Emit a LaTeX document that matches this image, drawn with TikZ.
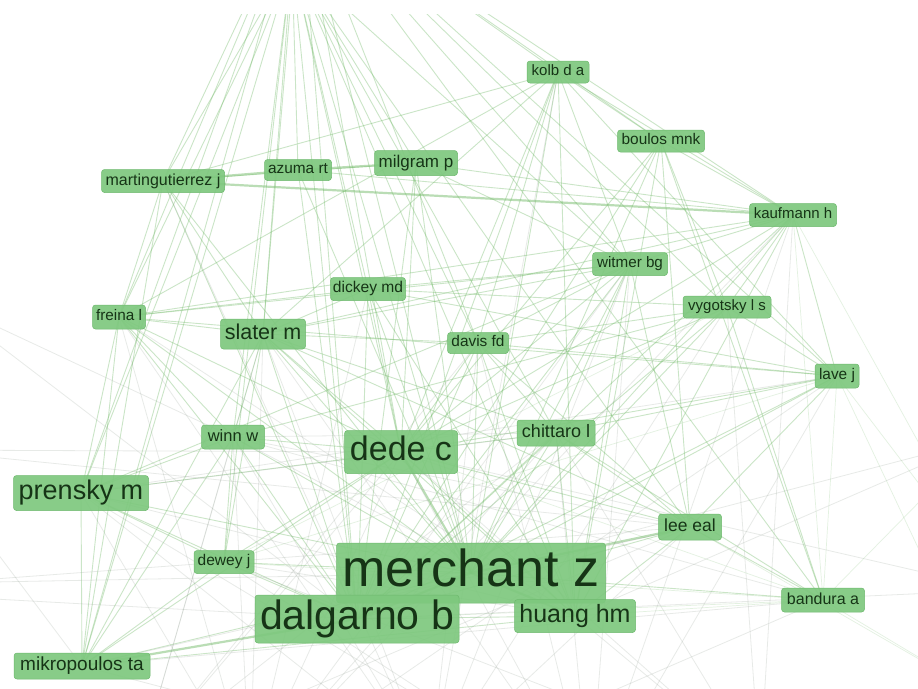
\documentclass[tikz,border=0pt]{standalone}
\usepackage{fontspec}
\setmainfont{Liberation Sans}
\usetikzlibrary{backgrounds}

\definecolor{nodefill}{RGB}{126,200,126}
\definecolor{nodeedge}{RGB}{110,185,110}
\definecolor{nodetext}{RGB}{22,52,22}
\definecolor{linkgreen}{RGB}{118,188,108}
\definecolor{linkgrey}{RGB}{150,162,150}

\tikzset{
  lbl/.style n args={3}{rectangle, rounded corners=3pt,
    fill=nodefill, fill opacity=0.92, text opacity=1,
    draw=nodeedge, line width=0.5pt,
    minimum width=#2pt, minimum height=#3pt, inner sep=0pt,
    font=\fontsize{#1}{#1}\selectfont, text=nodetext,
    execute at begin node={\rule[-0.22em]{0pt}{0.95em}}},
  ge/.style={draw=linkgreen, opacity=0.38, line width=0.9pt},
  gthick/.style={draw=linkgreen, opacity=0.5, line width=2.2pt},
  gfaint/.style={draw=linkgreen, opacity=0.2, line width=0.7pt},
  gg/.style={draw=linkgrey, opacity=0.22, line width=0.8pt},
}

\begin{document}
\begin{tikzpicture}[x=1pt, y=-1pt]
\useasboundingbox (0,0) rectangle (918,688);

% labels
\node[lbl={15}{62}{22}]   (kolb)    at (558,72)  {kolb d a};
\node[lbl={15.4}{87}{22}] (boulos)  at (661,141) {boulos mnk};
\node[lbl={16}{123}{23}]  (martin)  at (163,181) {martingutierrez j};
\node[lbl={15.4}{67}{21}] (azuma)   at (298,170) {azuma rt};
\node[lbl={17}{83}{25}]   (milgram) at (416,163) {milgram p};
\node[lbl={15}{87}{23}]   (kauf)    at (793,215) {kaufmann h};
\node[lbl={15.2}{75}{23}] (witmer)  at (630,264) {witmer bg};
\node[lbl={15.6}{75}{23}] (dickey)  at (368,289) {dickey md};
\node[lbl={15.3}{53}{24}] (freina)  at (119,317) {freina l};
\node[lbl={21.5}{85}{30}] (slater)  at (263,334) {slater m};
\node[lbl={15.4}{61}{21}] (davis)   at (478,343) {davis fd};
\node[lbl={15}{88}{22}]   (vyg)     at (727,307) {vygotsky l s};
\node[lbl={15.4}{44}{24}] (lave)    at (837,376) {lave j};
\node[lbl={16.5}{63}{24}] (winn)    at (233,437) {winn w};
\node[lbl={34}{113}{43}]  (dede)    at (401,452) {dede c};
\node[lbl={18}{78}{26}]   (chit)    at (556,433) {chittaro l};
\node[lbl={27}{135}{35}]  (prensky) at (81,493)  {prensky m};
\node[lbl={17.5}{63}{26}] (lee)     at (690,527) {lee eal};
\node[lbl={15.5}{60}{23}] (dewey)   at (224,562) {dewey j};
\node[lbl={52}{269}{60}]  (merch)   at (471,573) {merchant z};
\node[lbl={41}{204}{48}]  (dalg)    at (357,619) {dalgarno b};
\node[lbl={25}{121}{33}]  (huang)   at (575,616) {huang hm};
\node[lbl={16}{83}{24}]   (bandura) at (823,600) {bandura a};
\node[lbl={19}{136}{26}]  (mikro)   at (82,666)  {mikropoulos ta};

% end points of links that run out of the frame
\coordinate (topA) at (292,-40);
\coordinate (topB) at (300,-110);
\coordinate (botA) at (250,780);
\coordinate (botB) at (430,770);
\coordinate (botC) at (590,800);
\coordinate (botD) at (140,760);
\coordinate (botE) at (760,770);
\coordinate (rightA) at (1000,590);
\coordinate (rightB) at (990,700);
\coordinate (rightC) at (980,440);
\coordinate (leftA) at (-60,583);
\coordinate (leftB) at (-60,596);
\coordinate (leftC) at (-80,450);
\coordinate (leftD) at (-60,300);

\begin{scope}[on background layer]
  \fill[white] (0,0) rectangle (918,688);
  \clip (0,14) rectangle (918,688);

  % links towards the cluster above the frame
  \foreach \b in {martin,azuma,milgram,slater,freina,dede,merch,dalg,dickey,
                  davis,witmer,prensky,winn,mikro,huang,chit,dewey,lee}
    \draw[ge] (topA) -- (\b.center);
  \foreach \b in {martin,kolb,boulos,kauf,vyg,lave,freina,prensky,mikro,
                  witmer,davis,merch,dalg,bandura,slater,dede}
    \draw[ge] (topB) -- (\b.center);

  % strong links
  \foreach \a/\b in {martin/azuma, azuma/milgram, martin/kauf, lee/merch,
                     dalg/mikro, dede/merch, merch/dalg, merch/huang}
    \draw[gthick] (\a.center) -- (\b.center);

  % regular links
  \foreach \a/\b in {martin/milgram, milgram/kauf, azuma/kauf, kolb/boulos,
      kolb/kauf, kolb/witmer, kolb/davis, kolb/dede, kolb/merch, kolb/lave,
      kolb/dalg, kolb/slater, kolb/freina, kolb/martin, kolb/huang,
      boulos/kauf, boulos/dalg, boulos/merch, boulos/lee, boulos/huang,
      boulos/bandura, boulos/vyg, boulos/dede,
      kauf/witmer, kauf/vyg, kauf/merch, kauf/dalg, kauf/lave, kauf/huang,
      kauf/dede, kauf/slater, kauf/freina,
      witmer/slater, witmer/dickey, witmer/dede, witmer/merch, witmer/dalg,
      witmer/chit, witmer/huang, witmer/freina, witmer/lee, witmer/davis,
      witmer/prensky,
      dickey/dede, dickey/merch, dickey/dalg, dickey/freina, dickey/slater,
      dickey/lave, dickey/vyg, dickey/huang,
      freina/slater, freina/merch, freina/dalg, freina/mikro, freina/dede,
      freina/winn, freina/lave, freina/prensky,
      slater/dede, slater/merch, slater/dalg, slater/huang, slater/chit,
      slater/winn, slater/mikro, slater/dewey, slater/lee, slater/davis,
      davis/merch, davis/huang, davis/lee, davis/dalg, davis/dede, davis/chit,
      davis/lave, davis/vyg,
      vyg/lave, vyg/merch, vyg/dalg, vyg/dede, vyg/bandura, vyg/winn,
      lave/merch, lave/dede, lave/dalg, lave/lee, lave/chit,
      winn/dede, winn/merch, winn/dalg, winn/mikro, winn/dewey, winn/prensky,
      dede/prensky, dede/huang, dede/chit, dede/lee, dede/mikro, dede/dewey,
      chit/merch, chit/huang, chit/dalg, chit/lee, chit/bandura,
      prensky/merch, prensky/dalg, prensky/dewey, prensky/mikro,
      lee/huang, lee/dalg, lee/bandura,
      dewey/merch, dewey/dalg, dewey/mikro,
      merch/bandura, merch/mikro, dalg/huang, huang/mikro, milgram/dede,
      milgram/merch, milgram/dalg, milgram/witmer, azuma/dalg, azuma/merch,
      martin/dalg, martin/merch, martin/mikro, martin/slater, martin/freina}
    \draw[ge] (\a.center) -- (\b.center);

  % faint links
  \foreach \a/\b in {lave/bandura, kauf/bandura, dewey/bandura, dede/bandura,
      dalg/bandura, huang/bandura, lave/dewey, vyg/dewey, lave/rightB,
      kauf/rightA, lave/rightA, bandura/rightB, bandura/rightC, lee/rightB}
    \draw[gfaint] (\a.center) -- (\b.center);

  % grey links leaving the frame at the bottom and sides
  \foreach \a/\b in {botA/slater, botA/dede, botA/freina, botA/dickey,
      botA/witmer, botA/chit, botA/lave, botA/kauf, botA/winn, botA/prensky,
      botB/slater, botB/freina, botB/davis, botB/witmer, botB/vyg, botB/lee,
      botB/winn, botB/martin, botB/kolb, botB/prensky, botB/bandura,
      botC/dede, botC/davis, botC/witmer, botC/kauf, botC/lave, botC/dewey,
      botC/prensky, botC/mikro, botC/chit, botC/slater,
      botD/winn, botD/slater, botD/dede, botD/chit, botD/davis, botD/lee,
      botE/chit, botE/dede, botE/vyg, botE/kauf, botE/huang, botE/dewey,
      leftA/merch, leftB/dalg, leftA/dewey, leftC/dede, leftC/lee,
      leftD/winn, leftD/dalg, leftC/mikro, rightC/huang, rightA/dede,
      rightA/dalg, rightC/merch}
    \draw[gg] (\a) -- (\b.center);
  \foreach \a/\b in {prensky/huang, dewey/huang, mikro/bandura, winn/lee,
      winn/huang, prensky/chit, mikro/lee, dewey/lee, winn/bandura,
      freina/huang, prensky/lave, winn/chit}
    \draw[gg] (\a.center) -- (\b.center);
\end{scope}
\end{tikzpicture}
\end{document}
